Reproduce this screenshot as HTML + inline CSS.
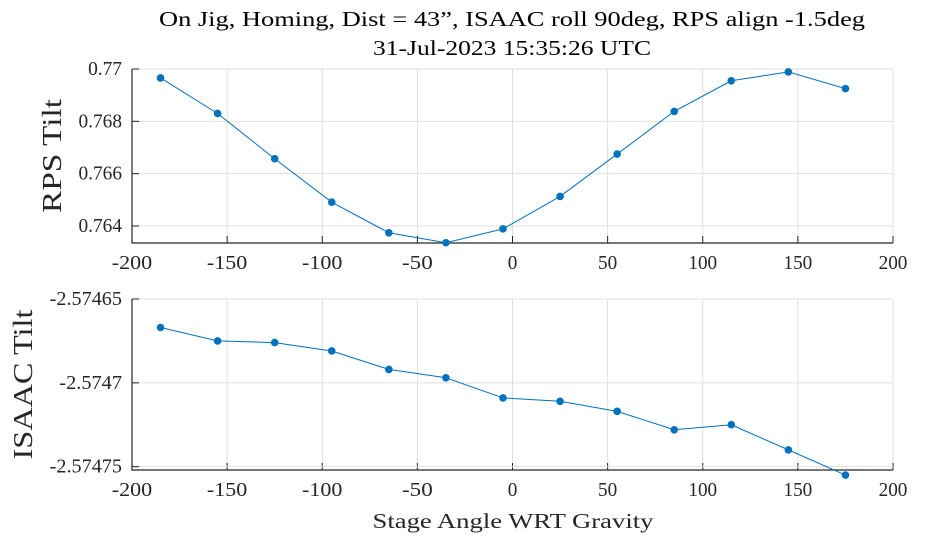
<!DOCTYPE html>
<html><head><meta charset="utf-8"><style>
body{margin:0;background:#fff;}
svg{display:block;font-family:"Liberation Serif",serif;}
</style></head><body>
<svg id="c" width="938" height="546"></svg>
<script>
const angles=[-185,-155,-125,-95,-65,-35,-5,25,55,85,115,145,175];
const rpsTilt=[0.76966,0.76830,0.76657,0.76491,0.76374,0.76336,0.76389,0.76513,0.76675,0.76838,0.76955,0.76989,0.76925];
const isaacTilt=[-2.574667,-2.574675,-2.574676,-2.574681,-2.574692,-2.574697,-2.574709,-2.574711,-2.574717,-2.574728,-2.574725,-2.574740,-2.574755];
const xTicks=[-200,-150,-100,-50,0,50,100,150,200];
const rpsTicks=[0.764,0.766,0.768,0.77];
const rpsTickLabels=["0.764","0.766","0.768","0.77"];
const isaacTicks=[-2.57475,-2.5747,-2.57465];
const isaacTickLabels=["-2.57475","-2.5747","-2.57465"];
const NS="http://www.w3.org/2000/svg";
const svg=document.getElementById('c');
function mk(t,a,p){const e=document.createElementNS(NS,t);for(const k in a)e.setAttribute(k,a[k]);(p||svg).appendChild(e);return e;}
const X0=132,X1=893;
const xs=v=>X0+(v+200)/400*(X1-X0);
const CW=9.6; // approx char width for tick labels
function tl(s){return s.length*CW-(s.indexOf('.')>=0?4.5:0);}
function panel(name,top,bot,ymin,ymax,vals,ticks,labels,ylabel,ylx,ylLen){
  const g=mk('g',{});
  
  
  const ys=v=>bot-(v-ymin)/(ymax-ymin)*(bot-top);
  mk('rect',{x:X0,y:top,width:X1-X0,height:bot-top,fill:'#fff'},g);
  xTicks.forEach(t=>{const x=xs(t);
    const gl=mk('line',{x1:x,x2:x,y1:top,y2:bot,stroke:'#dfdfdf','stroke-width':1},g);
    
    mk('line',{x1:x,x2:x,y1:bot,y2:bot-7,stroke:'#262626'},g);
    const s=String(t);
    const tx=mk('text',{x:x,y:bot+26,'text-anchor':'middle','font-size':20,fill:'#262626',textLength:tl(s)+ (s[0]==='-'?2:0),lengthAdjust:'spacingAndGlyphs'},g);
    tx.textContent=s;
  });
  ticks.forEach((t,i)=>{const y=ys(t);
    const gl=mk('line',{x1:X0,x2:X1,y1:y,y2:y,stroke:'#dfdfdf'},g);
    
    mk('line',{x1:X0,x2:X0+7,y1:y,y2:y,stroke:'#262626'},g);
    const tx=mk('text',{x:X0-10,y:y+6,'text-anchor':'end','font-size':20,fill:'#262626',textLength:tl(labels[i]),lengthAdjust:'spacingAndGlyphs'},g);
    tx.textContent=labels[i];
  });
  mk('path',{d:`M${X0},${top}V${bot}H${X1}`,fill:'none',stroke:'#262626','stroke-width':1.2},g);
  const pts=angles.map((a,i)=>[xs(a),ys(vals[i])]);
  const ln=mk('polyline',{points:pts.map(p=>p.join(',')).join(' '),fill:'none',stroke:'#0072bd','stroke-width':1},g);
  
  pts.forEach(p=>{const c=mk('circle',{cx:p[0],cy:p[1],r:3.8,fill:'#0072bd'},g);
    });
  const yl=mk('text',{transform:`translate(${ylx},${(top+bot)/2}) rotate(-90)`,'text-anchor':'middle','font-size':27,fill:'#262626',textLength:ylLen,lengthAdjust:'spacingAndGlyphs'},g);
  yl.textContent=ylabel;
}
panel('rps-panel',69,243,0.76335,0.77,rpsTilt,rpsTicks,rpsTickLabels,'RPS Tilt',61,114);
panel('isaac-panel',299,470,-2.574752,-2.57465,isaacTilt,isaacTicks,isaacTickLabels,'ISAAC Tilt',32,150);
const t1=mk('text',{x:512,y:26,'text-anchor':'middle','font-size':21,fill:'#000',textLength:706,lengthAdjust:'spacingAndGlyphs'});
t1.textContent='On Jig, Homing, Dist = 43\u201D, ISAAC roll 90deg, RPS align -1.5deg';

const t2=mk('text',{x:512,y:55,'text-anchor':'middle','font-size':21,fill:'#000',textLength:278,lengthAdjust:'spacingAndGlyphs'});
t2.textContent='31-Jul-2023 15:35:26 UTC';

const xl=mk('text',{x:513,y:528,'text-anchor':'middle','font-size':21,fill:'#262626',textLength:281,lengthAdjust:'spacingAndGlyphs'});
xl.textContent='Stage Angle WRT Gravity';

</script>
</body></html>
